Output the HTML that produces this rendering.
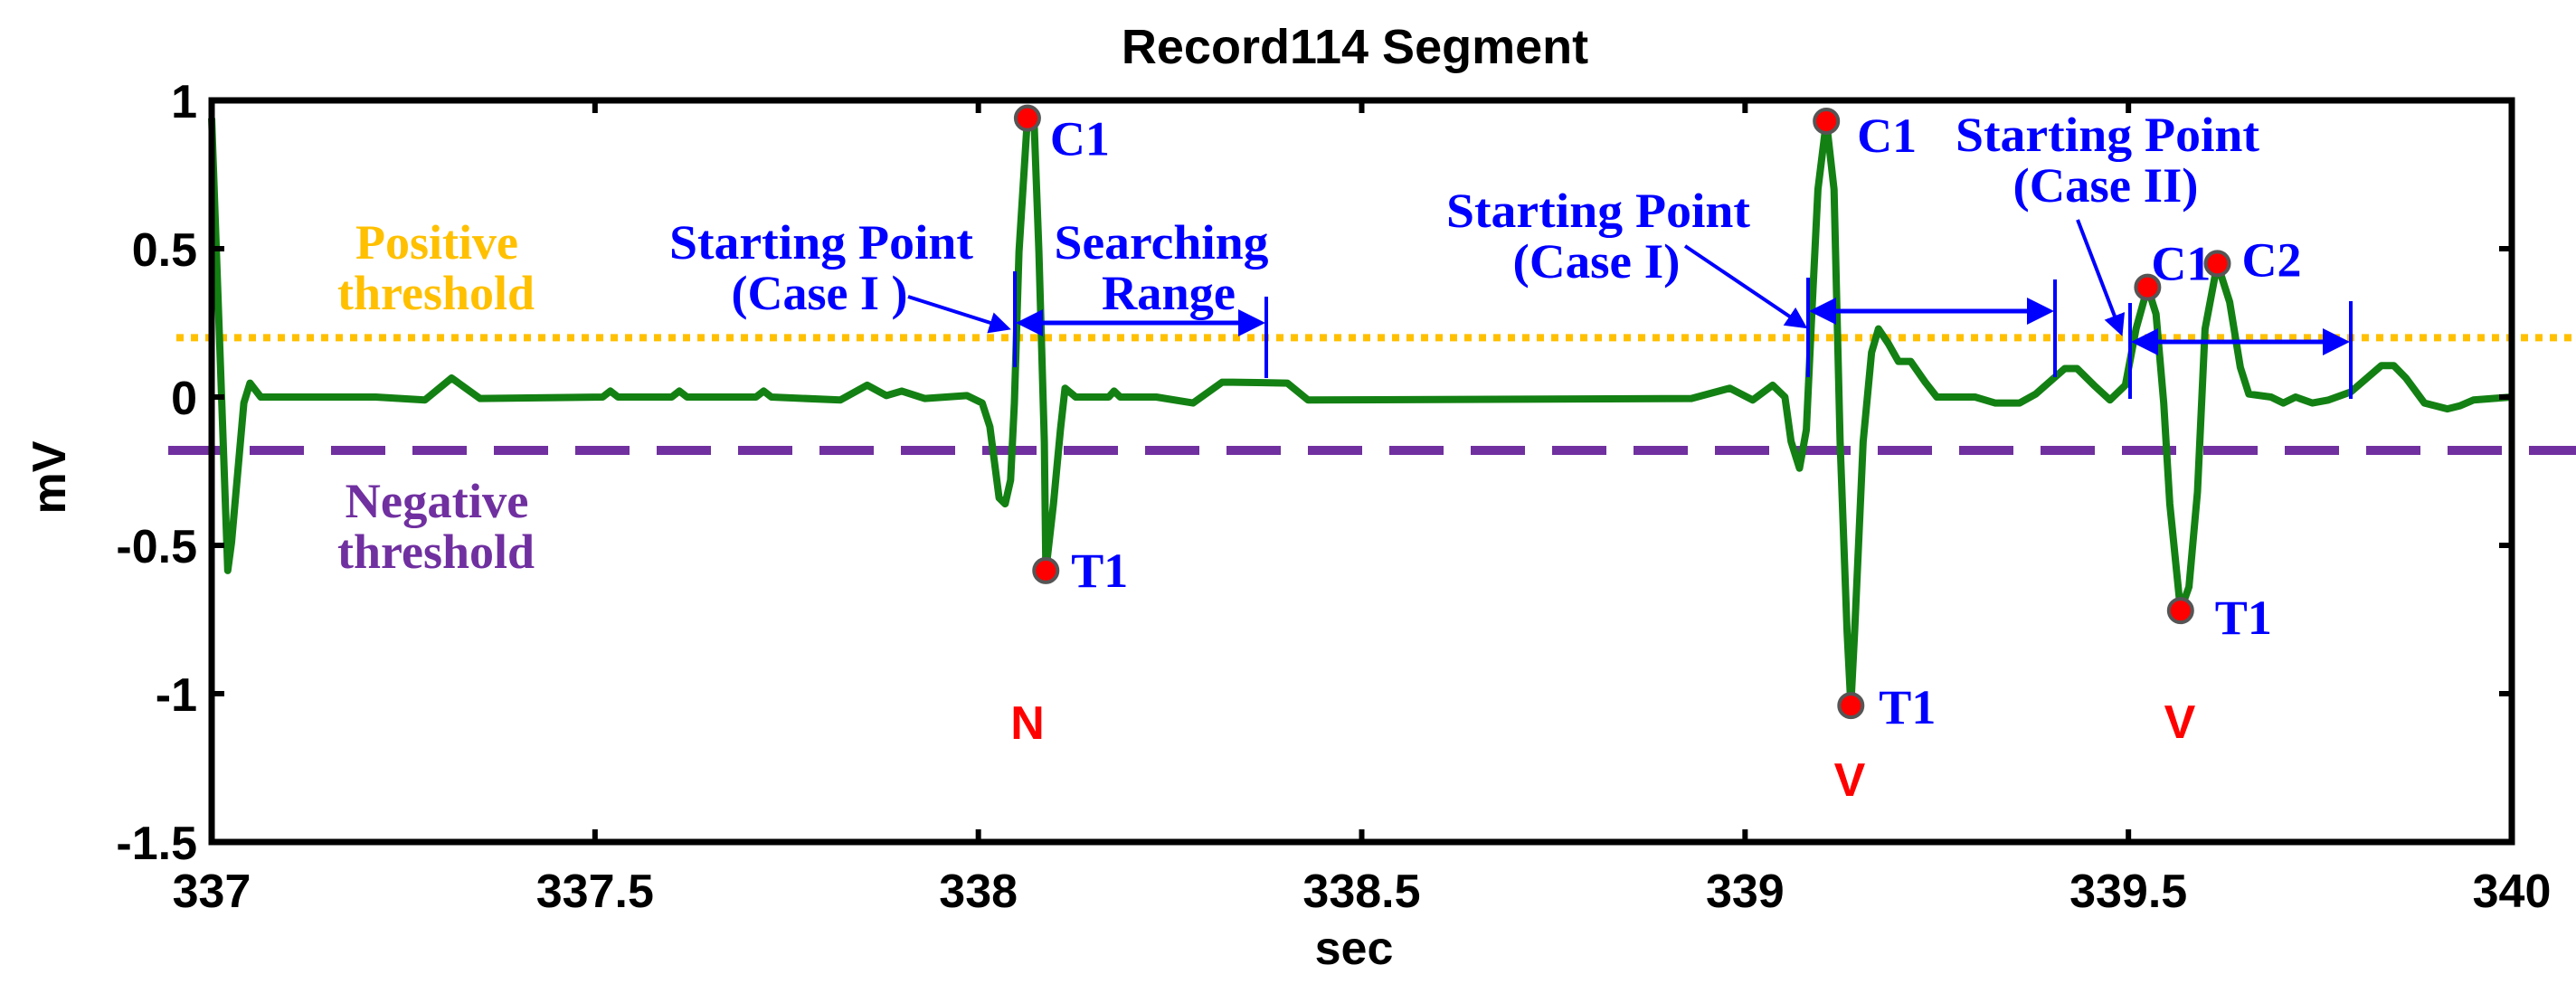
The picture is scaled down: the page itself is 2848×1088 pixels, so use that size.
<!DOCTYPE html>
<html><head><meta charset="utf-8"><style>
html,body{margin:0;padding:0;background:#fff;}
svg{display:block;}
.tk{font-family:"Liberation Sans",Arial,sans-serif;font-weight:bold;font-size:52px;}
.an{font-family:"Liberation Serif","Times New Roman",serif;font-weight:bold;font-size:54px;}
</style></head><body>
<svg id="chart" width="2848" height="1088" viewBox="0 0 2848 1088" xmlns="http://www.w3.org/2000/svg">
<rect width="2848" height="1088" fill="#fff"/>
<g id="plot"></g>
<g id="ann"></g>
</svg>
<script>
const times=[337.0,337.021,337.026,337.042,337.05,337.064,337.214,337.278,337.313,337.35,337.51,337.52,337.53,337.6,337.61,337.62,337.71,337.72,337.73,337.82,337.855,337.88,337.9,337.93,337.985,338.005,338.015,338.027,338.035,338.042,338.047,338.053,338.064,338.073,338.079,338.086,338.088,338.098,338.107,338.113,338.127,338.17,338.177,338.185,338.232,338.28,338.318,338.332,338.403,338.43,338.93,338.98,339.01,339.036,339.052,339.06,339.071,339.08,339.087,339.095,339.106,339.116,339.124,339.133,339.138,339.143,339.154,339.165,339.174,339.187,339.2,339.216,339.235,339.25,339.3,339.326,339.358,339.379,339.417,339.433,339.455,339.476,339.496,339.51,339.525,339.536,339.546,339.554,339.568,339.579,339.59,339.6,339.616,339.632,339.646,339.657,339.686,339.702,339.718,339.74,339.761,339.79,339.83,339.846,339.862,339.886,339.916,339.932,339.95,340.0];
const mv=[0.94,-0.585,-0.49,-0.02,0.047,0,0,-0.01,0.064,-0.005,0,0.02,0,0,0.02,0,0,0.02,0,-0.01,0.04,0.005,0.02,-0.005,0.005,-0.02,-0.1,-0.34,-0.36,-0.28,-0.02,0.49,0.94,0.91,0.49,-0.15,-0.585,-0.36,-0.11,0.03,0,0,0.02,0,0,-0.02,0.05,0.05,0.047,-0.01,-0.005,0.03,-0.01,0.04,0,-0.15,-0.24,-0.11,0.28,0.70,0.93,0.70,-0.15,-0.79,-1.04,-0.79,-0.15,0.15,0.23,0.18,0.12,0.12,0.05,0,0,-0.02,-0.02,0.01,0.096,0.096,0.04,-0.01,0.04,0.23,0.37,0.28,-0.02,-0.36,-0.72,-0.64,-0.32,0.23,0.45,0.32,0.1,0.01,0,-0.02,0,-0.02,-0.01,0.017,0.106,0.106,0.064,-0.02,-0.04,-0.03,-0.01,0];
const xTicks=[337,337.5,338,338.5,339,339.5,340];
const xTickLabels=["337","337.5","338","338.5","339","339.5","340"];
const yTicks=[1,0.5,0,-0.5,-1,-1.5];
const yTickLabels=["1","0.5","0","-0.5","-1","-1.5"];
const posThreshold=0.2;
const negThreshold=-0.18;
const markerT=[338.064,338.088,339.106,339.138,339.525,339.616,339.568];
const markerV=[0.94,-0.585,0.93,-1.04,0.37,0.45,-0.72];
const markerLabels=["C1","T1","C1","T1","C1","C2","T1"];

const X0=234,X1=2777,Y0=111,Y1=931;
const xs=t=>X0+(t-337)/(340-337)*(X1-X0);
const ys=v=>Y0+(1-v)/(1-(-1.5))*(Y1-Y0);
const NS="http://www.w3.org/2000/svg";
const plot=document.getElementById('plot'), ann=document.getElementById('ann');
function mk(tag,attrs,parent,txt){const e=document.createElementNS(NS,tag);for(const k in attrs)e.setAttribute(k,attrs[k]);if(txt!==undefined)e.textContent=txt;parent.appendChild(e);return e;}

let e=mk('line',{x1:195,x2:2848,y1:ys(posThreshold),y2:ys(posThreshold),stroke:'#ffc000','stroke-width':8,'stroke-dasharray':'8 8'},plot);


e=mk('line',{x1:186,x2:2848,y1:ys(negThreshold),y2:ys(negThreshold),stroke:'#7030a0','stroke-width':10,'stroke-dasharray':'60 30'},plot);



let d=times.map((t,i)=>(i?'L':'M')+xs(t).toFixed(1)+' '+ys(mv[i]).toFixed(1)).join(' ');
e=mk('path',{d:d,fill:'none',stroke:'#138013','stroke-width':8,'stroke-linejoin':'round'},plot);



e=mk('rect',{x:X0,y:Y0,width:X1-X0,height:Y1-Y0,fill:'none',stroke:'#000','stroke-width':7},plot);


xTicks.forEach((t,i)=>{
  const x=xs(t);
  let l=mk('line',{x1:x,x2:x,y1:Y1,y2:Y1-14,stroke:'#000','stroke-width':6},plot);
  
  
  l=mk('line',{x1:x,x2:x,y1:Y0,y2:Y0+14,stroke:'#000','stroke-width':6},plot);
  
  
  const tx=mk('text',{x:x,y:Y1+72,'text-anchor':'middle',class:'tk',style:'fill:#000'},plot,xTickLabels[i]);
  
  
});
yTicks.forEach((v,i)=>{
  const y=ys(v);
  let l=mk('line',{x1:X0,x2:X0+14,y1:y,y2:y,stroke:'#000','stroke-width':6},plot);
  
  
  l=mk('line',{x1:X1,x2:X1-14,y1:y,y2:y,stroke:'#000','stroke-width':6},plot);
  
  
  const tx=mk('text',{x:X0-16,y:y+19,'text-anchor':'end',class:'tk',style:'fill:#000'},plot,yTickLabels[i]);
  
  
});
e=mk('text',{x:1498,y:70,'text-anchor':'middle',class:'tk',style:'fill:#000;font-size:54px'},plot,'Record114 Segment');


e=mk('text',{x:1497,y:1066,'text-anchor':'middle',class:'tk',style:'fill:#000'},plot,'sec');


e=mk('text',{x:0,y:0,'text-anchor':'middle',class:'tk',style:'fill:#000',transform:'translate(72 528) rotate(-90)'},plot,'mV');



function at(x,y,s,w,fill,name){const t=mk('text',{x:x,y:y,'text-anchor':'middle',class:'an',textLength:w,lengthAdjust:'spacingAndGlyphs',style:'fill:'+(fill||'#0000ff')},ann,s);

return t;}
at(483,286,'Positive',180,'#ffc000','positive-threshold-label');
at(482,342,'threshold',218,'#ffc000','positive-threshold-label-2');
at(483,572,'Negative',203,'#7030a0','negative-threshold-label');
at(482,628,'threshold',218,'#7030a0','negative-threshold-label-2');
at(908,286,'Starting Point',336,null,'starting-point-label-1');
at(906,342,'(Case I )',195,null,'case-label-1');
at(1284,286,'Searching',237,null,'searching-label');
at(1292,342,'Range',148,null,'range-label');
at(1767,251,'Starting Point',336,null,'starting-point-label-2');
at(1765,307,'(Case I)',185,null,'case-label-2');
at(2330,167,'Starting Point',336,null,'starting-point-label-3');
at(2328,223,'(Case II)',205,null,'case-label-3');

mk('defs',{},ann).innerHTML='<marker id="ah" markerWidth="6" markerHeight="6" refX="5" refY="3" orient="auto" markerUnits="strokeWidth"><path d="M0,0 L6,3 L0,6 z" fill="#0000ff"/></marker><marker id="ahs" markerWidth="6" markerHeight="6" refX="1" refY="3" orient="auto" markerUnits="strokeWidth"><path d="M6,0 L0,3 L6,6 z" fill="#0000ff"/></marker>';
function ln(x1,y1,x2,y2,w,ends,name){const l=mk('line',{x1:x1,y1:y1,x2:x2,y2:y2,stroke:'#0000ff','stroke-width':w},ann);
if(ends>0)l.setAttribute('marker-end','url(#ah)');if(ends>1)l.setAttribute('marker-start','url(#ahs)');

}
ln(1004,328,1114,363,4,1,'starting-point-arrow-1');
ln(1122,300,1122,406,4,0,'range-start-line-1');
ln(1400,328,1400,418,4,0,'range-end-line-1');
ln(1128,357,1394,357,5,2,'searching-range-arrow-1');
ln(1863,272,1995,361,4,1,'starting-point-arrow-2');
ln(1999,307,1999,417,4,0,'range-start-line-2');
ln(2272,309,2272,417,4,0,'range-end-line-2');
ln(2005,344,2266,344,5,2,'searching-range-arrow-2');
ln(2297,243,2345,368,4,1,'starting-point-arrow-3');
ln(2355,335,2355,441,4,0,'range-start-line-3');
ln(2599,333,2599,441,4,0,'range-end-line-3');
ln(2361,378,2593,378,5,2,'searching-range-arrow-3');

const labOff=[[25,41],[28,18],[34,34],[31,20],[4,-8],[27,14],[38,26]];
markerT.forEach((t,i)=>{
  const cx=xs(t),cy=ys(markerV[i]);
  const c=mk('circle',{cx:cx,cy:cy,r:13,fill:'#ff0000',stroke:'#555','stroke-width':4},ann);
  
  
  const tx=mk('text',{x:cx+labOff[i][0],y:cy+labOff[i][1],class:'an',style:'fill:#0000ff'},ann,markerLabels[i]);
  
  
});
[[1136,817,'N'],[2045,880,'V'],[2410,816,'V']].forEach(b=>{
  const tx=mk('text',{x:b[0],y:b[1],'text-anchor':'middle',class:'tk',style:'fill:#ff0000'},ann,b[2]);
  
  
});
</script>
</body></html>
